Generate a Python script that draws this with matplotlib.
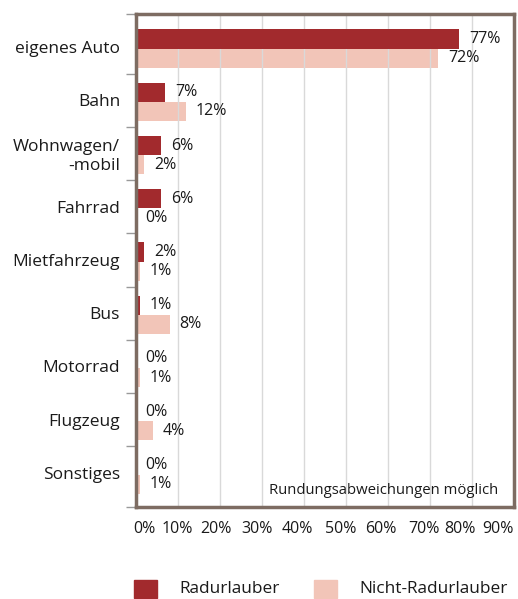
import numpy as np
import matplotlib
matplotlib.use("Agg")
import matplotlib.pyplot as plt
import matplotlib.transforms as mtransforms
from matplotlib.patches import Rectangle

plt.rcParams['font.family'] = ['Open Sans', 'DejaVu Sans']

#data
categories = ["eigenes Auto", "Bahn", "Wohnwagen/\n-mobil", "Fahrrad", "Mietfahrzeug",
              "Bus", "Motorrad", "Flugzeug", "Sonstiges"]
radurlauber = [77, 7, 6, 6, 2, 1, 0, 0, 0]
nicht_radurlauber = [72, 12, 2, 0, 1, 8, 1, 4, 1]
xticks = [0, 10, 20, 30, 40, 50, 60, 70, 80, 90]

red = "#a22a2d"
pink = "#f2c5b8"
frame = "#7d6c62"
txt = "#1a1a1a"

fig = plt.figure(figsize=(5.18, 5.99), dpi=100)
ax = fig.add_axes([0.2625, 0.1536, 0.7295, 0.823])

y = np.arange(len(categories))
h = 0.36
ax.barh(y - h / 2 + 0.03, radurlauber, height=h, color=red, zorder=3)
ax.barh(y + h / 2 + 0.03, nicht_radurlauber, height=h, color=pink, zorder=1)

#value labels
for i in range(len(categories)):
    ax.text(radurlauber[i] + 2.3, y[i] - h / 2 + 0.03, f"{radurlauber[i]}%", va="center", ha="left",
            fontsize=11.5, color=txt, zorder=4)
    ax.text(nicht_radurlauber[i] + 2.3, y[i] + h / 2 + 0.03, f"{nicht_radurlauber[i]}%", va="center",
            ha="left", fontsize=11.5, color=txt, zorder=4)

ax.set_xlim(0, 90)
ax.set_ylim(8.64, -0.62)
ax.set_xticks(xticks)
ax.set_xticklabels([f"{v}%" for v in xticks], fontsize=11.5, color=txt)
ax.tick_params(axis="x", length=0, pad=10)
#the tick labels in the original sit a bit tighter than the grid
shifts = [8, -1, -4, -5, -7, -5, -7, -6, -12, -16]
for lab, dx in zip(ax.get_xticklabels(), shifts):
    lab.set_transform(lab.get_transform() + mtransforms.ScaledTranslation(dx / 100, 0, fig.dpi_scale_trans))

ax.set_yticks(y)
ax.set_yticklabels(categories, fontsize=12.5, ha="right", color=txt)
ax.tick_params(axis="y", which="major", length=0, pad=11.5)
ax.set_yticks([-0.62] + list(np.arange(0.5, 8, 1)) + [8.64], minor=True)
ax.tick_params(axis="y", which="minor", length=7, width=1, color="#999999")
ax.xaxis.grid(True, color="#d9d9d9", linewidth=1, zorder=2)
ax.set_axisbelow(False)

for s in ax.spines.values():
    s.set_color(frame)
    s.set_linewidth(2.5)
    s.set_zorder(5)

ax.text(0.958, 0.018, "Rundungsabweichungen möglich", transform=ax.transAxes,
        ha="right", va="bottom", fontsize=10.7, color=txt)

#legend
fig.patches.append(Rectangle((134 / 518, 1 - 598 / 599), 23 / 518, 18 / 599,
                             transform=fig.transFigure, color=red))
fig.text(179 / 518, 1 - 589 / 599, "Radurlauber", fontsize=12.4, va="center", color=txt)
fig.patches.append(Rectangle((314 / 518, 1 - 598 / 599), 23 / 518, 18 / 599,
                             transform=fig.transFigure, color=pink))
fig.text(359 / 518, 1 - 589 / 599, "Nicht-Radurlauber", fontsize=12.4, va="center", color=txt)

fig.savefig("out.png", dpi=100)
